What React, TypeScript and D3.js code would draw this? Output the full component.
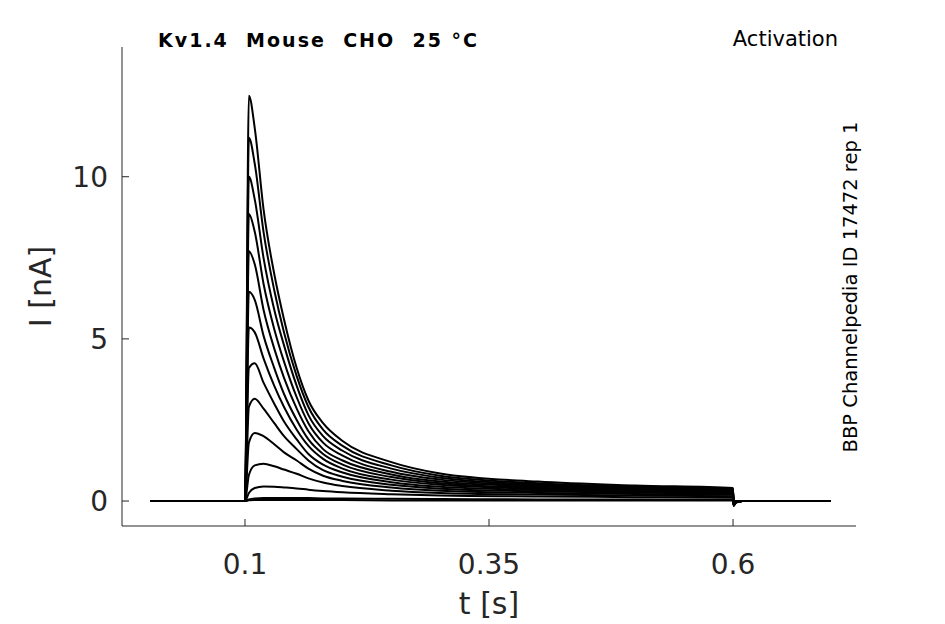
import React from 'react';
import * as d3 from 'd3';

// sample times (s) during the step, and current (nA) read per trace
const stepTimes = [0.1, 0.104, 0.11, 0.119, 0.13, 0.14, 0.153, 0.165, 0.18, 0.2, 0.25, 0.3, 0.4, 0.5, 0.6];
const traces: number[][] = [
  [0, 12.5, 11.5, 9.0, 7.0, 5.6, 4.1, 3.1, 2.4, 1.85, 1.2, 0.85, 0.6, 0.48, 0.4],
  [0, 11.2, 10.4, 8.3, 6.5, 5.2, 3.85, 2.9, 2.2, 1.7, 1.1, 0.78, 0.55, 0.45, 0.38],
  [0, 10, 9.3, 7.5, 5.9, 4.8, 3.55, 2.65, 2.0, 1.55, 1.0, 0.72, 0.51, 0.42, 0.36],
  [0, 8.85, 8.3, 6.7, 5.3, 4.3, 3.2, 2.4, 1.8, 1.4, 0.9, 0.66, 0.48, 0.4, 0.34],
  [0, 7.7, 7.3, 5.9, 4.7, 3.8, 2.85, 2.15, 1.6, 1.25, 0.82, 0.6, 0.45, 0.37, 0.32],
  [0, 6.45, 6.2, 5.1, 4.1, 3.3, 2.5, 1.9, 1.45, 1.12, 0.74, 0.55, 0.41, 0.34, 0.3],
  [0, 5.35, 5.2, 4.4, 3.55, 2.9, 2.2, 1.7, 1.3, 1.0, 0.66, 0.5, 0.38, 0.32, 0.28],
  [0, 4.1, 4.25, 3.65, 3.0, 2.45, 1.9, 1.45, 1.12, 0.88, 0.58, 0.44, 0.34, 0.29, 0.25],
  [0, 2.9, 3.15, 2.85, 2.4, 2.0, 1.6, 1.25, 0.95, 0.75, 0.5, 0.38, 0.3, 0.26, 0.22],
  [0, 1.8, 2.1, 2.0, 1.75, 1.5, 1.25, 1.0, 0.78, 0.62, 0.42, 0.32, 0.25, 0.22, 0.19],
  [0, 0.8, 1.1, 1.15, 1.07, 0.97, 0.84, 0.7, 0.57, 0.46, 0.32, 0.25, 0.2, 0.17, 0.15],
  [0, 0.25, 0.4, 0.45, 0.44, 0.42, 0.39, 0.35, 0.31, 0.27, 0.21, 0.17, 0.14, 0.12, 0.1],
  [0, 0.05, 0.08, 0.09, 0.09, 0.09, 0.09, 0.09, 0.08, 0.08, 0.07, 0.06, 0.05, 0.05, 0.04],
  [0, 0.02, 0.03, 0.03, 0.03, 0.03, 0.03, 0.03, 0.03, 0.03, 0.02, 0.02, 0.02, 0.02, 0.02],
];
const preTimes = [0.003, 0.0995];
const preValues = [0, 0];
const postTimes = [0.6005, 0.603, 0.61, 0.7];
const postValues = [-0.15, -0.05, 0, 0];

const xTicks = [0.1, 0.35, 0.6];
const yTicks = [0, 5, 10];

const W = 945, H = 624;
const left = 122, right = 856, top = 47, bottom = 526;

export default function App() {
  const x = d3.scaleLinear().domain([-0.026, 0.726]).range([left, right]);
  const y = d3.scaleLinear().domain([-0.77, 14]).range([bottom, top]);
  const line = d3.line<[number, number]>().x(d => x(d[0])).y(d => y(d[1])).curve(d3.curveMonotoneX);
  const font = 'DejaVu Sans, sans-serif';
  const grey = '#262626';

  return (
    <svg width={W} height={H} style={{ position: 'absolute', left: 0, top: 0, background: '#fff' }} fontFamily={font}>
      {traces.map((vals, i) => {
        const pts: [number, number][] = [
          ...preTimes.map((t, j) => [t, preValues[j]] as [number, number]),
          ...stepTimes.map((t, j) => [t, vals[j]] as [number, number]),
          ...postTimes.map((t, j) => [t, postValues[j] * (vals[14] / 0.4)] as [number, number]),
        ];
        return <path key={i} d={line(pts) ?? ''} fill="none" stroke="#000" strokeWidth={2} />;
      })}
      <line x1={left} x2={left} y1={top} y2={bottom} stroke={grey} />
      <line x1={left} x2={right} y1={bottom} y2={bottom} stroke={grey} />
      {xTicks.map(t => (
        <g key={t}>
          <line x1={x(t)} x2={x(t)} y1={bottom} y2={bottom - 7} stroke={grey} />
          <text x={x(t)} y={bottom + 48} textAnchor="middle" fontSize={28} fill={grey}>{t}</text>
        </g>
      ))}
      {yTicks.map(t => (
        <g key={t}>
          <line x1={left} x2={left + 7} y1={y(t)} y2={y(t)} stroke={grey} />
          <text x={left - 14} y={y(t) + 10} textAnchor="end" fontSize={28} fill={grey}>{t}</text>
        </g>
      ))}
      <text x={(left + right) / 2} y={614} textAnchor="middle" fontSize={30} fill={grey}>t [s]</text>
      <text transform={`translate(51,${(top + bottom) / 2}) rotate(-90)`} textAnchor="middle" fontSize={30} fill={grey}>I [nA]</text>
      <text x={158} y={47} fontSize={19} fontWeight="bold" fill="#000" style={{ whiteSpace: 'pre' }} textLength={319}>Kv1.4  Mouse  CHO  25 °C</text>
      <text x={838} y={46} textAnchor="end" fontSize={21} fill="#000">Activation</text>
      <text transform="translate(857,287) rotate(-90)" textAnchor="middle" fontSize={19.5} fill="#000">BBP Channelpedia ID 17472 rep 1</text>
    </svg>
  );
}
